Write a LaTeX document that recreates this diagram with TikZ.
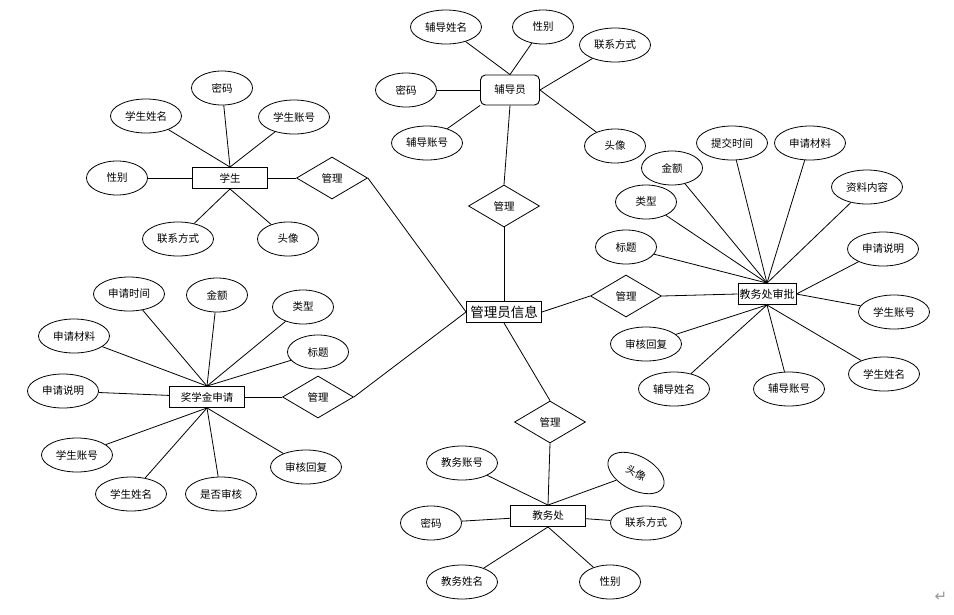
\documentclass[tikz,border=0pt]{standalone}
\usepackage{fontspec}
\setmainfont{Noto Sans CJK SC}
\newfontfamily\symfont{DejaVu Sans}
\usetikzlibrary{shapes.geometric}

\tikzset{
  attr/.style={draw,ellipse,line width=0.8pt,minimum width=71pt,minimum height=34pt,inner sep=0pt,font=\fontsize{10.5}{12}\selectfont},
  attrs/.style={attr,minimum width=61pt},
  ent/.style={draw,rectangle,line width=0.9pt,minimum width=75pt,minimum height=21pt,inner sep=1pt,font=\fontsize{10.5}{12}\selectfont},
  rel/.style={draw,diamond,line width=0.8pt,minimum width=71pt,minimum height=42pt,aspect=1.7,inner sep=0pt,font=\fontsize{10.5}{12}\selectfont},
  conn/.style={line width=0.8pt}
}

\begin{document}
\begin{tikzpicture}[x=1pt,y=-1pt]
        \useasboundingbox (0,0) rectangle (954,614);
        % 学生
        \node[ent] (stu) at (230,178) {学生};
        \node[attrs] (stuPwd) at (222,88) {密码};
        \node[attr] (stuName) at (146,116) {学生姓名};
        \node[attr] (stuAcc) at (294,117) {学生账号};
        \node[attrs] (stuSex) at (117,178) {性别};
        \node[attr] (stuTel) at (178,239) {联系方式};
        \node[attrs] (stuPic) at (288,239) {头像};
        \node[rel] (r1) at (332,178) {管理};
        % 奖学金申请
        \node[ent] (app) at (207,397) {奖学金申请};
        \node[attr] (appTime) at (129,294) {申请时间};
        \node[attrs] (appMoney) at (217,295) {金额};
        \node[attrs] (appType) at (303,307) {类型};
        \node[attr] (appMat) at (74,336) {申请材料};
        \node[attrs] (appTitle) at (318,352) {标题};
        \node[attr] (appDesc) at (63,391) {申请说明};
        \node[attr] (appAcc) at (77,455) {学生账号};
        \node[attr] (appReply) at (306,467) {审核回复};
        \node[attr] (appName) at (131,494) {学生姓名};
        \node[attr] (appChk) at (221,494) {是否审核};
        \node[rel] (r2) at (318,397) {管理};
        % 辅导员
        \node[ent,rounded corners=5pt,minimum width=59pt,minimum height=30pt] (tut) at (510,90) {辅导员};
        \node[attr] (tutName) at (446,27) {辅导姓名};
        \node[attrs] (tutSex) at (543,27) {性别};
        \node[attr] (tutTel) at (615,45) {联系方式};
        \node[attrs] (tutPwd) at (406,90) {密码};
        \node[attr] (tutAcc) at (427,143) {辅导账号};
        \node[attrs] (tutPic) at (615,146) {头像};
        \node[rel] (r3) at (504,206) {管理};
        % 管理员信息
        \node[ent,font=\fontsize{13.5}{15}\selectfont] (adm) at (504,312) {管理员信息};
        % 教务处审批
        \node[rel] (r4) at (626,296) {管理};
        \node[ent,minimum width=58pt,inner sep=0.5pt,font=\fontsize{11}{12}\selectfont] (aud) at (767,294) {教务处审批};
        \node[attr] (audTime) at (732,143) {提交时间};
        \node[attr] (audMat) at (810,143) {申请材料};
        \node[attrs] (audMoney) at (672,168) {金额};
        \node[attr] (audCont) at (867,187) {资料内容};
        \node[attrs] (audType) at (646,202) {类型};
        \node[attrs] (audTitle) at (626,247) {标题};
        \node[attr] (audDesc) at (883,249) {申请说明};
        \node[attr] (audAcc) at (894,312) {学生账号};
        \node[attr] (audReply) at (646,344) {审核回复};
        \node[attr] (audName) at (884,374) {学生姓名};
        \node[attr] (audTName) at (674,389) {辅导姓名};
        \node[attr] (audTAcc) at (789,389) {辅导账号};
        % 教务处
        \node[rel] (r5) at (550,422) {管理};
        \node[ent] (off) at (548,516) {教务处};
        \node[attr] (offAcc) at (462,463) {教务账号};
        \node[attrs,rotate=-28] (offPic) at (636,473) {头像};
        \node[attrs] (offPwd) at (431,523) {密码};
        \node[attr] (offTel) at (646,523) {联系方式};
        \node[attr] (offName) at (462,582) {教务姓名};
        \node[attrs] (offSex) at (610,582) {性别};
        \node[text=gray!80,font=\fontsize{15}{15}\selectfont] (ret) at (941,597) {\symfont ↵};

        \begin{scope}[conn]
        \draw(stu.north)--(stuPwd);
        \draw(stu.north)--(stuName);
        \draw(stu.north)--(stuAcc);
        \draw(stu)--(stuSex);
        \draw(stu.south)--(stuTel);
        \draw(stu.south)--(stuPic);
        \draw(stu)--(r1);
        \draw(r1.east)--(adm.west);

        \draw(app.north)--(appTime);
        \draw(app.north)--(appMoney);
        \draw(app.north)--(appType);
        \draw(app.north)--(appMat);
        \draw(app.north)--(appTitle);
        \draw(app)--(appDesc);
        \draw(app.south)--(appAcc);
        \draw(app.south)--(appReply);
        \draw(app.south)--(appName);
        \draw(app.south)--(appChk);
        \draw(app)--(r2);
        \draw(r2.east)--(adm.west);

        \draw(tut.north)--(tutName);
        \draw(tut.north)--(tutSex);
        \draw(tut.east)--(tutTel);
        \draw(tut)--(tutPwd);
        \draw(tut.south west)--(tutAcc);
        \draw(tut.east)--(tutPic);
        \draw(tut.south)--(r3.north);
        \draw(r3.south)--(adm.north);

        \draw(adm.east)--(r4.west);
        \draw(r4.east)--(aud.west);
        \draw(aud.north)--(audTime);
        \draw(aud.north)--(audMat);
        \draw(aud.north)--(audMoney);
        \draw(aud.north)--(audCont);
        \draw(aud.north)--(audType);
        \draw(aud.north)--(audTitle);
        \draw(aud.east)--(audDesc);
        \draw(aud.east)--(audAcc);
        \draw(aud.south)--(audReply);
        \draw(aud.south)--(audName);
        \draw(aud.south)--(audTName);
        \draw(aud.south)--(audTAcc);

        \draw(adm.south)--(r5.north);
        \draw(r5.south)--(off.north);
        \draw(off.north)--(offAcc);
        \draw(off.north)--(offPic);
        \draw(off)--(offPwd);
        \draw(off)--(offTel);
        \draw(off.south)--(offName);
        \draw(off.south)--(offSex);
        \end{scope}
\end{tikzpicture}
\end{document}
